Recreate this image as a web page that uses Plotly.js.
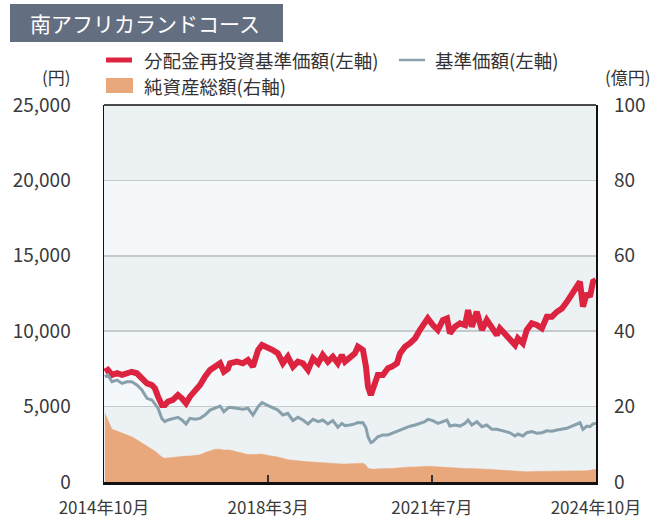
<!DOCTYPE html>
<html><head><meta charset="utf-8">
<script src="https://cdn.plot.ly/plotly-3.0.1.min.js"></script>
<style>html,body{margin:0;padding:0;background:#fff}#chart{width:669px;height:519px}</style>
</head><body><div id="chart"></div>
<script>
const dates = ["2014-10-08","2014-10-30","2014-11-29","2015-01-06","2015-02-12","2015-03-19","2015-04-25","2015-06-02","2015-07-09","2015-08-16",
"2015-09-22","2015-10-14","2015-11-06","2015-12-05","2015-12-27","2016-01-19","2016-02-25","2016-04-02","2016-05-01","2016-06-01",
"2016-06-30","2016-08-07","2016-09-13","2016-10-20","2016-11-26","2017-01-03","2017-02-09","2017-03-09","2017-04-08","2017-04-23",
"2017-06-14","2017-07-28","2017-09-04","2017-10-11","2017-11-18","2017-12-17","2018-01-24","2018-03-07","2018-04-14","2018-05-21",
"2018-06-27","2018-08-04","2018-09-10","2018-10-17","2018-11-24","2018-12-31","2019-02-07","2019-03-13","2019-04-20","2019-05-27",
"2019-07-03","2019-08-02","2019-08-25","2019-10-01","2019-11-07","2019-11-29","2020-01-06","2020-01-28","2020-02-12","2020-03-04",
"2020-03-19","2020-04-25","2020-06-02","2020-07-09","2020-08-08","2020-09-14","2020-10-07","2020-11-13","2020-12-20","2021-01-27",
"2021-03-03","2021-04-09","2021-05-01","2021-06-08","2021-07-15","2021-08-21","2021-09-21","2021-10-12","2021-11-19","2021-12-26",
"2022-02-02","2022-02-24","2022-03-24","2022-04-30","2022-06-07","2022-07-13","2022-08-20","2022-09-26","2022-10-18","2022-11-25",
"2023-01-01","2023-02-08","2023-03-01","2023-04-07","2023-05-06","2023-06-12","2023-07-19","2023-08-26","2023-10-02","2023-11-09",
"2023-12-16","2024-01-22","2024-02-28","2024-04-05","2024-05-12","2024-06-04","2024-06-26","2024-07-25","2024-08-17","2024-09-09","2024-10-01"];

// 分配金再投資基準価額（円）
const navReinvest = [7310,7430,7100,7210,7100,7210,7310,7210,6880,6540,
6430,6210,5660,5100,5100,5330,5440,5770,5550,5220,
5660,5990,6430,6980,7430,7650,7870,7310,7500,7870,
7980,7870,8090,7650,8750,9080,8970,8750,8530,7870,
8310,7650,7980,7870,7430,8200,7870,8420,7980,8310,
7870,8420,7980,8200,8530,8970,8750,7650,6320,5770,
6210,7100,7100,7540,7650,7870,8530,8970,9200,9530,
10080,10520,10850,10410,10080,10740,10850,9860,10300,10520,
10410,11400,10300,11290,10080,10740,10300,9750,10190,9860,
9530,9080,9530,9200,10080,10520,10410,10190,10960,10960,
11290,11510,11950,12510,13060,13280,11620,12510,12290,13280,13390];

// 基準価額（円）
const nav = [6980,7100,6650,6760,6540,6650,6650,6430,6100,5550,
5440,5200,4900,4200,4000,4110,4220,4290,4110,3850,
4220,4160,4220,4440,4770,4890,5040,4660,4900,4950,
4890,4820,4890,4440,4990,5260,5100,4950,4770,4440,
4550,4070,4290,4110,3850,4160,4000,4110,3850,4070,
3630,3890,3740,3780,3850,3950,3930,3600,3000,2610,
2670,3000,3120,3120,3230,3340,3450,3600,3700,3780,
3880,4000,4160,4070,3890,4000,4110,3710,3780,3710,
3890,4100,3780,4000,3670,3780,3490,3490,3450,3360,
3260,3050,3180,3050,3270,3340,3230,3270,3400,3370,
3450,3490,3560,3710,3850,3930,3490,3710,3670,3850,3890];

// 純資産総額（億円）
const aum = [18.2,16.5,14.0,13.5,13.0,12.5,12.0,11.2,10.3,9.4,
8.7,8.2,7.6,6.6,6.3,6.4,6.5,6.6,6.7,6.9,
6.9,7.0,7.2,7.8,8.2,8.7,8.7,8.5,8.5,8.5,
8.0,7.7,7.3,7.3,7.4,7.4,7.1,6.9,6.6,6.3,
5.9,5.8,5.6,5.5,5.4,5.3,5.1,5.1,5.0,5.0,
4.9,4.8,4.8,4.8,4.8,4.9,5.0,4.5,3.6,3.5,
3.4,3.5,3.5,3.6,3.6,3.7,3.8,3.9,4.0,4.0,
4.1,4.2,4.2,4.1,4.0,4.0,3.9,3.8,3.8,3.7,
3.6,3.6,3.6,3.5,3.4,3.4,3.3,3.2,3.1,3.0,
2.9,2.8,2.8,2.7,2.7,2.8,2.8,2.9,2.9,2.9,
2.9,2.9,2.9,3.0,3.0,3.0,3.0,3.0,3.1,3.3,3.4];

const xTickVals = ["2014-10-01","2018-02-01","2021-06-01","2024-10-01"];
const xTickText = ["2014年10月","2018年3月","2021年7月","2024年10月"];
const yTickVals = [0,5000,10000,15000,20000,25000];
const yTickText = ["0","5,000","10,000","15,000","20,000","25,000"];
const y2TickVals = [0,20,40,60,80,100];

const chartTitle = "南アフリカランドコース";
const seriesNames = ["分配金再投資基準価額(左軸)","基準価額(左軸)","純資産総額(右軸)"];

const W = 669, H = 519, L = 104, R = 73, T = 105, B = 37;
const pw = W - L - R, ph = H - T - B;
const px = v => (v - L) / pw;
const py = v => (H - B - v) / ph;

const FONT = '"Noto Sans CJK JP", "Noto Sans", sans-serif';
const RED = '#dc2340', GRAY = '#88a0ac', ORANGE = '#e8a87c';

const traces = [
  {x: dates, y: navReinvest, type: 'scatter', mode: 'lines', name: seriesNames[0],
   line: {color: RED, width: 6}, xaxis: 'x', yaxis: 'y'},
  {x: dates, y: nav, type: 'scatter', mode: 'lines', name: seriesNames[1],
   line: {color: GRAY, width: 3}, xaxis: 'x', yaxis: 'y'},
  {x: dates, y: aum, type: 'scatter', mode: 'lines', name: seriesNames[2],
   fill: 'tozeroy', fillcolor: ORANGE, line: {color: ORANGE, width: 0.5}, xaxis: 'x', yaxis: 'y2'}
];

const shapes = [];
[0, 10000, 20000].forEach(v => shapes.push({type: 'rect', xref: 'paper', yref: 'y', x0: 0, x1: 1, y0: v, y1: v + 5000,
  fillcolor: '#ecf1f4', line: {width: 0}, layer: 'below'}));
// title box
shapes.push({type: 'rect', xref: 'paper', yref: 'paper', x0: px(10), x1: px(283), y0: py(42), y1: py(4),
  fillcolor: '#636e80', line: {width: 0}});
// top border
shapes.push({type: 'line', xref: 'paper', yref: 'paper', x0: 0, x1: 1, y0: 1, y1: 1, line: {color: '#111', width: 1.5}});
// legend symbols
shapes.push({type: 'line', xref: 'paper', yref: 'paper', x0: px(106), x1: px(132), y0: py(60), y1: py(60), line: {color: RED, width: 5}});
shapes.push({type: 'line', xref: 'paper', yref: 'paper', x0: px(399), x1: px(425), y0: py(60), y1: py(60), line: {color: GRAY, width: 2.5}});
shapes.push({type: 'rect', xref: 'paper', yref: 'paper', x0: px(106), x1: px(133), y0: py(93), y1: py(78), fillcolor: ORANGE, line: {width: 0}});

const annFont = {family: FONT, size: 18.5, color: '#333'};
const annotations = [
  {xref: 'paper', yref: 'paper', x: px(28), y: py(23), xanchor: 'left', yanchor: 'middle', showarrow: false,
   text: chartTitle, font: {family: FONT, size: 21, color: '#ffffff'}},
  {xref: 'paper', yref: 'paper', x: px(143), y: py(60), xanchor: 'left', yanchor: 'middle', showarrow: false, borderpad: 0, text: seriesNames[0], font: annFont},
  {xref: 'paper', yref: 'paper', x: px(434), y: py(60), xanchor: 'left', yanchor: 'middle', showarrow: false, borderpad: 0, text: seriesNames[1], font: annFont},
  {xref: 'paper', yref: 'paper', x: px(143), y: py(86), xanchor: 'left', yanchor: 'middle', showarrow: false, borderpad: 0, text: seriesNames[2], font: annFont},
  {xref: 'paper', yref: 'paper', x: px(56), y: py(76), xanchor: 'center', yanchor: 'middle', showarrow: false, borderpad: 0, text: '(円)', font: {family: FONT, size: 17, color: '#333'}},
  {xref: 'paper', yref: 'paper', x: px(628), y: py(76), xanchor: 'center', yanchor: 'middle', showarrow: false, borderpad: 0, text: '(億円)', font: {family: FONT, size: 17, color: '#333'}}
];

const tickFont = {family: FONT, size: 19, color: '#3a3a3a'};
const layout = {
  width: W, height: H,
  margin: {l: L, r: R, t: T, b: B, pad: 0},
  paper_bgcolor: '#ffffff', plot_bgcolor: '#f5f8fa',
  showlegend: false,
  font: {family: FONT},
  xaxis: {type: 'date', range: ['2014-10-01', '2024-10-01'], tickmode: 'array', tickvals: xTickVals, ticktext: xTickText,
    showgrid: false, zeroline: false, showline: true, linecolor: '#111', linewidth: 2.5,
    ticks: 'inside', ticklen: 7, tickwidth: 1.5, tickcolor: '#333', tickfont: {family: FONT, size: 17, color: '#3a3a3a'},
    ticklabelstandoff: 9, fixedrange: true},
  yaxis: {range: [0, 25000], tickmode: 'array', tickvals: yTickVals, ticktext: yTickText,
    showgrid: true, gridcolor: '#c7cacd', gridwidth: 1.5, zeroline: false,
    showline: true, linecolor: '#111', linewidth: 1.5, mirror: true, ticks: '',
    tickfont: tickFont, ticklabelstandoff: 28, fixedrange: true},
  yaxis2: {range: [0, 100], overlaying: 'y', side: 'right', tickmode: 'array', tickvals: y2TickVals,
    showgrid: false, zeroline: false, showline: false, ticks: '',
    tickfont: tickFont, ticklabelstandoff: 17, fixedrange: true},
  shapes: shapes,
  annotations: annotations
};

Plotly.newPlot('chart', traces, layout, {displayModeBar: false, staticPlot: true});
</script>
</body></html>
